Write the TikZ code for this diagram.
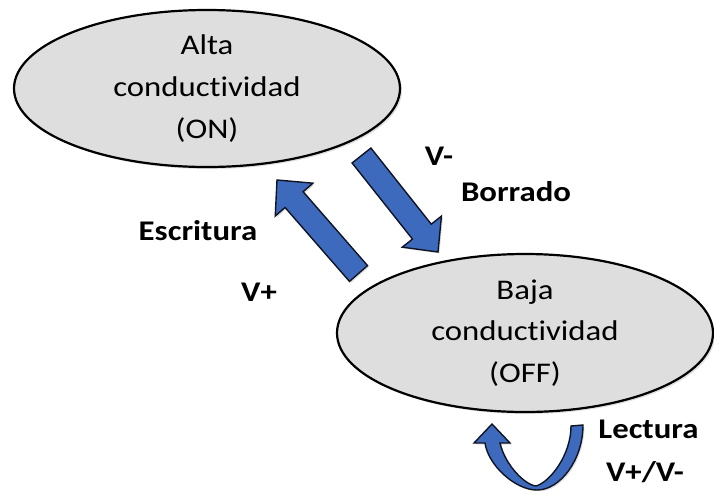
\documentclass[tikz,border=0pt]{standalone}
\usepackage{fontspec}
\setmainfont[FakeStretch=1.15,Ligatures=NoCommon]{Carlito}
\usetikzlibrary{shapes.geometric,calc,shadows}
\definecolor{ellfill}{RGB}{222,222,222}
\definecolor{arrblue}{RGB}{62,106,190}
\definecolor{arredge}{RGB}{15,20,35}
\newcommand\blockarr[3]{%
  \coordinate (#3n) at ($(#2)!26pt!(#1)$);
  \draw[blockarrow] ($(#1)!12pt!90:(#2)$) -- ($(#3n)!12pt!90:(#2)$) -- ($(#3n)!25pt!90:(#2)$) -- (#2)
    -- ($(#3n)!25pt!-90:(#2)$) -- ($(#3n)!12pt!-90:(#2)$) -- ($(#1)!12pt!-90:(#2)$) -- cycle;}
\begin{document}
\begin{tikzpicture}[x=1pt,y=-1pt,
  state/.style={ellipse, draw=black, line width=2.2pt, fill=ellfill, inner sep=0pt, align=center,
    drop shadow={shadow xshift=2pt, shadow yshift=-2pt, opacity=0.25},
    font=\fontsize{28.5}{41.6}\selectfont},
  lbl/.style={anchor=base, font=\fontsize{28.5}{34}\selectfont\bfseries, inner sep=0pt},
  blockarrow/.style={fill=arrblue, draw=arredge, line width=1.4pt, line join=miter,
    drop shadow={shadow xshift=1.5pt, shadow yshift=-1.5pt, opacity=0.25}}]
\useasboundingbox (0,0) rectangle (714,490);
\node[state, minimum width=386pt, minimum height=157pt] (on) at (207,88.5) {Alta\\conductividad\\(ON)};
\node[state, minimum width=376pt, minimum height=158pt] (off) at (525,333) {Baja\\conductividad\\(OFF)};
\coordinate (wtail) at (358.5,273.5);
\coordinate (wtip) at (277,180);
\coordinate (btail) at (361.5,155.5);
\coordinate (btip) at (438,252);
\blockarr{wtail}{wtip}{w}
\blockarr{btail}{btip}{b}
\draw[blockarrow] (583,425) .. controls (583,460) and (560,490) .. (537,490)
  .. controls (515,490) and (488,465) .. (485,443) -- (474,443) -- (492,424) -- (510,443) -- (500,443)
  .. controls (505,465) and (525,485) .. (536,486)
  .. controls (550,482) and (571,455) .. (571,426) -- cycle;
\node[lbl] (esc) at (198,240) {Escritura};
\node[lbl] (vp) at (259,301.7) {V+};
\node[lbl] (vm) at (439,165) {V-};
\node[lbl] (bor) at (516,201.7) {Borrado};
\node[lbl] (lec) at (648.5,438) {Lectura};
\node[lbl] (vpm) at (645,481.7) {V+/V-};
\end{tikzpicture}
\end{document}
